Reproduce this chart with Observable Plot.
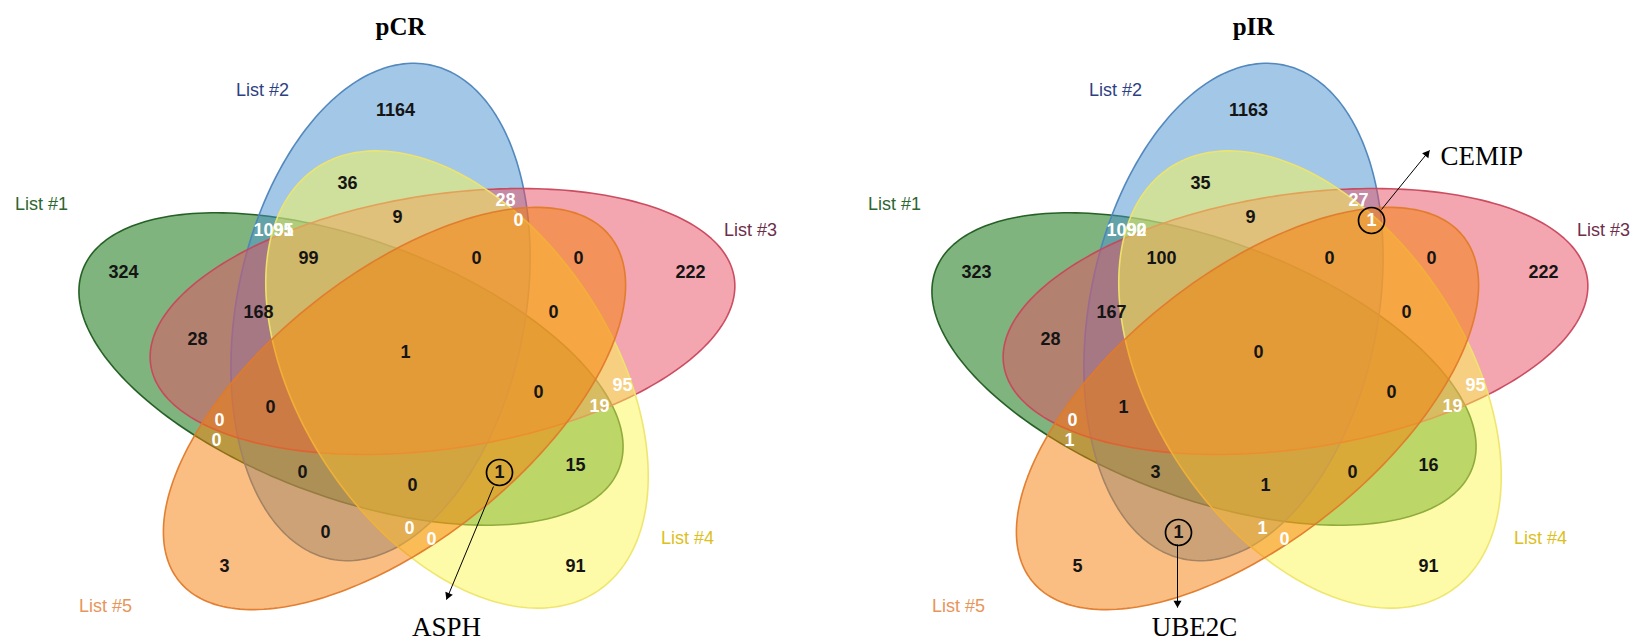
<!DOCTYPE html>
<html>
<head>
<meta charset="utf-8">
<script src="https://cdn.jsdelivr.net/npm/d3@7"></script>
<script src="https://cdn.jsdelivr.net/npm/@observablehq/plot@0.6"></script>
<style>
  body { margin: 0; background: #fff; }
  #chart svg { display: block; }
</style>
</head>
<body>
<div id="chart"></div>
<script>
// ---- Data -------------------------------------------------------------
const panels = ["pCR", "pIR"];
const lists = ["List #1", "List #2", "List #3", "List #4", "List #5"];

// Venn regions, named by the lists they belong to
const regions = [
  "1", "2", "3", "4", "5",
  "12", "13", "14", "15", "23", "24", "25", "34", "35", "45",
  "123", "124", "125", "134", "135", "145", "234", "235", "245", "345",
  "1234", "1235", "1245", "1345", "2345", "12345"
];

const pCR = [
  324, 1164, 222, 91, 3,
  1095, 28, 15, 0, 28, 36, 0, 95, 0, 0,
  168, 91, 0, 19, 0, 1, 9, 0, 0, 0,
  99, 0, 0, 0, 0, 1
];

const pIR = [
  323, 1163, 222, 91, 5,
  1092, 28, 16, 1, 27, 35, 1, 95, 0, 0,
  167, 90, 3, 19, 1, 0, 9, 1, 1, 0,
  100, 0, 1, 0, 0, 0
];

// Single genes called out in the diagrams
const genes = [
  { panel: "pCR", region: "145", gene: "ASPH" },
  { panel: "pIR", region: "235", gene: "CEMIP" },
  { panel: "pIR", region: "25", gene: "UBE2C" }
];

// ---- Layout -----------------------------------------------------------
const W = 1634, H = 641;
const panelShift = { pCR: 0, pIR: 853 };

// one ellipse per list: centre, semi-axes, tilt (degrees, clockwise)
const shapes = [
  { cx: 350.5, cy: 368.5, a: 286, b: 129, tilt: 20.2,  fill: "rgb(0,105,0)",     stroke: "#1d5a1d" },
  { cx: 380,   cy: 311.5, a: 252, b: 144, tilt: -78.7, fill: "rgb(72,143,207)",  stroke: "#4d84ba" },
  { cx: 442,   cy: 321,   a: 295, b: 127, tilt: -8.5,  fill: "rgb(231,77,97)",   stroke: "#c8465a" },
  { cx: 456.5, cy: 379,   a: 254, b: 156, tilt: 56.5,  fill: "rgb(251,247,81)",  stroke: "#eee56c" },
  { cx: 394,   cy: 408,   a: 276, b: 133, tilt: -38.6, fill: "rgb(245,125,5)",   stroke: "#e07a2a" }
];

const listSpots = [
  { x: 41,  y: 204, color: "#2e6630" },
  { x: 262, y: 90,  color: "#2e3f82" },
  { x: 750, y: 230, color: "#6e2d4b" },
  { x: 687, y: 538, color: "#dcc020" },
  { x: 105, y: 606, color: "#e8955a" }
];

// label anchor of each region; light = white text
const regionSpots = {
  "1": [123, 272], "2": [395, 110], "3": [690, 272], "4": [575, 566], "5": [224, 566],
  "12": [273, 230, true], "13": [197, 339], "14": [575, 465], "15": [216, 440, true],
  "23": [505, 200, true], "24": [347, 183], "25": [325, 532], "34": [622, 385, true],
  "35": [578, 258], "45": [431, 539, true],
  "123": [258, 312], "124": [283, 230, true], "125": [302, 472], "134": [599, 406, true],
  "135": [270, 407], "145": [499, 472], "234": [397, 217], "235": [518, 220, true],
  "245": [409, 528, true], "345": [553, 312],
  "1234": [308, 258], "1235": [219, 420, true], "1245": [412, 485], "1345": [538, 392],
  "2345": [476, 258], "12345": [405, 352]
};

const titleSpot = { x: 400, y: 26 };

// callout arrows (start, end) and gene label anchors, in page coordinates
const callouts = {
  ASPH:  { from: [493, 486], to: [446, 599], text: [446, 627], anchor: "middle" },
  CEMIP: { from: [1381, 209], to: [1429, 150], text: [1440, 156], anchor: "start" },
  UBE2C: { from: [1177, 544], to: [1177, 607], text: [1194, 627], anchor: "middle" }
};

// ---- Build ------------------------------------------------------------
function ellipsePoints(s, dx) {
  const t = s.tilt * Math.PI / 180, n = 240, pts = [];
  for (let i = 0; i < n; i++) {
    const u = (i / n) * 2 * Math.PI;
    const ex = s.a * Math.cos(u), ey = s.b * Math.sin(u);
    pts.push({ x: dx + s.cx + ex * Math.cos(t) - ey * Math.sin(t),
               y: s.cy + ex * Math.sin(t) + ey * Math.cos(t) });
  }
  return pts;
}

const valuesBy = { pCR, pIR };
const marks = [];
const sans = "Liberation Sans, Arial, sans-serif";
const serif = "Liberation Serif, Times New Roman, serif";

for (const p of panels) {
  const dx = panelShift[p];
  shapes.forEach(s => {
    marks.push(Plot.line(ellipsePoints(s, dx), {
      x: "x", y: "y", curve: "linear-closed",
      fill: s.fill, fillOpacity: 0.5,
      stroke: s.stroke, strokeWidth: 1.6, strokeOpacity: 0.95
    }));
  });

  const listRows = lists.map((name, i) => ({ name, x: listSpots[i].x + dx, y: listSpots[i].y, color: listSpots[i].color }));
  marks.push(Plot.text(listRows, {
    x: "x", y: "y", text: "name", fill: "color",
    fontSize: 18, fontFamily: sans
  }));

  const rows = regions.map((r, i) => {
    const [x, y, light] = regionSpots[r];
    return { region: r, value: valuesBy[p][i], x: x + dx, y, light: !!light };
  });
  marks.push(Plot.text(rows, {
    x: "x", y: "y", text: d => String(d.value),
    fill: d => d.light ? "#ffffff" : "#151515",
    fontSize: 18, fontWeight: "bold", fontFamily: sans
  }));

  marks.push(Plot.text([{ x: titleSpot.x + dx, y: titleSpot.y, t: p }], {
    x: "x", y: "y", text: "t", fontSize: 25, fontWeight: "bold",
    fontFamily: serif, fill: "#000"
  }));
}

// gene callouts: ring around the count, arrow, gene name
const rings = [], links = [], heads = [], names = [];
for (const g of genes) {
  const [x, y] = regionSpots[g.region];
  rings.push({ x: x + panelShift[g.panel], y });
  const c = callouts[g.gene];
  links.push({ x1: c.from[0], y1: c.from[1], x2: c.to[0], y2: c.to[1] });
  const vx = c.to[0] - c.from[0], vy = c.to[1] - c.from[1];
  const len = Math.hypot(vx, vy);
  heads.push({ x: c.to[0] - 4.4 * vx / len, y: c.to[1] - 4.4 * vy / len,
               angle: Math.atan2(vx, -vy) * 180 / Math.PI });
  names.push({ x: c.text[0], y: c.text[1], gene: g.gene, anchor: c.anchor });
}

marks.push(Plot.dot(rings, { x: "x", y: "y", r: 13, stroke: "#000", strokeWidth: 1.7, fill: "none" }));
marks.push(Plot.link(links, { x1: "x1", y1: "y1", x2: "x2", y2: "y2", stroke: "#000", strokeWidth: 1 }));
marks.push(Plot.dot(heads, { x: "x", y: "y", symbol: "triangle", r: 3, rotate: "angle", fill: "#000", stroke: "none" }));
for (const n of names) {
  marks.push(Plot.text([n], {
    x: "x", y: "y", text: "gene", textAnchor: n.anchor,
    fontSize: 27, fontFamily: serif, fill: "#000"
  }));
}

const chart = Plot.plot({
  width: W, height: H, margin: 0,
  x: { domain: [0, W], range: [0, W], axis: null },
  y: { domain: [0, H], range: [0, H], axis: null },
  color: { type: "identity" },
  style: { background: "#fff", overflow: "visible" },
  marks
});
document.getElementById("chart").append(chart);
</script>
</body>
</html>
